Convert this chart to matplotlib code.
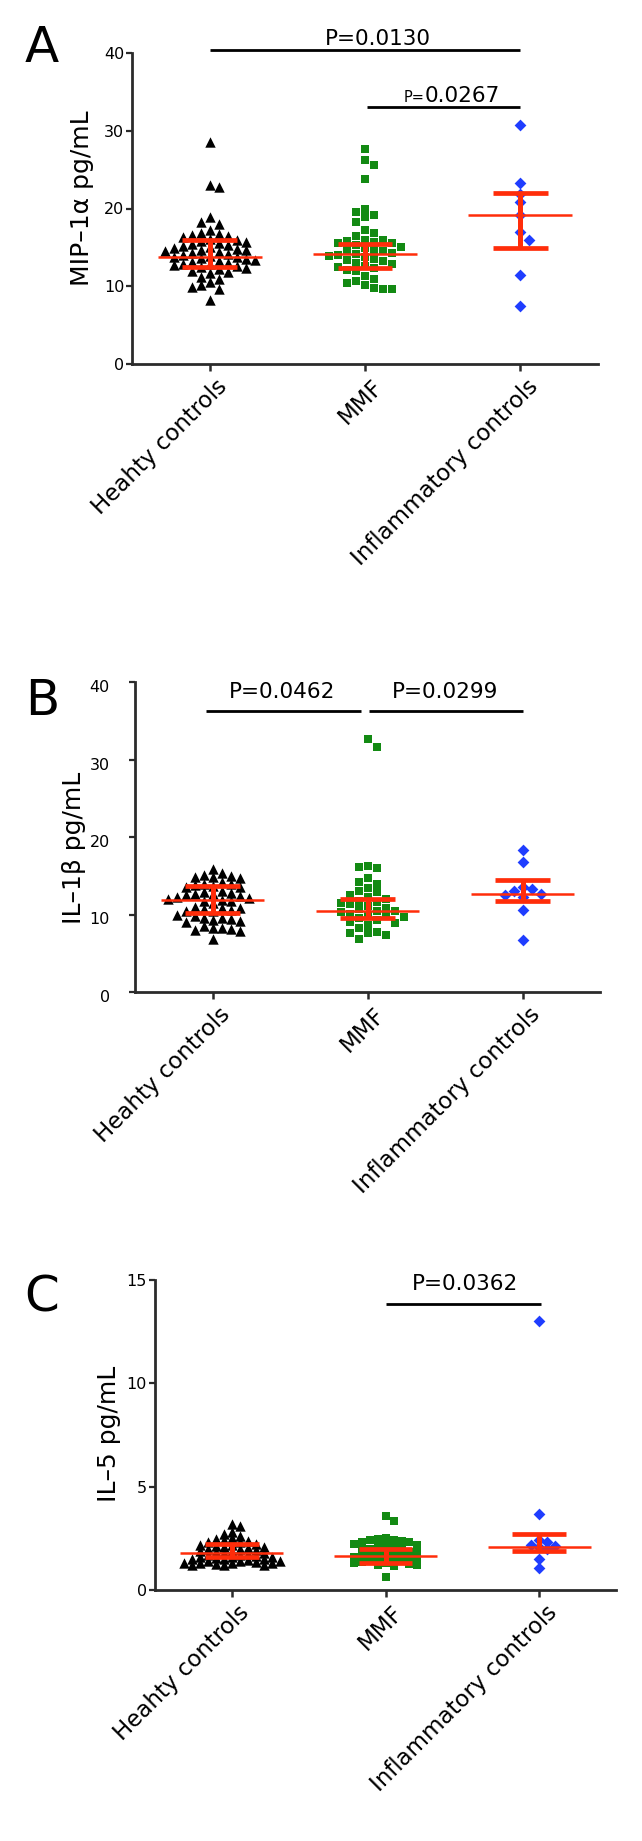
import numpy as np
import matplotlib
matplotlib.use("Agg")
import matplotlib.pyplot as plt
from matplotlib.transforms import ScaledTranslation

# ---------------- data ----------------
groups = ["Heahty controls", "MMF", "Inflammatory controls"]

# Panel A : MIP-1alpha
healthy_A = [28.6, 23.0, 22.8, 18.9, 18.3, 18.0, 17.2, 16.9, 16.7, 16.6, 16.4, 16.3,
             16.1, 15.9, 15.8, 15.7, 15.5, 15.4, 15.3, 15.2, 15.0, 14.9, 14.8, 14.7,
             14.6, 14.5, 14.4, 14.3, 14.1, 14.0, 13.9, 13.8, 13.7, 13.6, 13.5, 13.4,
             13.3, 13.1, 13.0, 12.9, 12.8, 12.7, 12.6, 12.5, 12.4, 12.2, 12.0, 11.8,
             11.7, 11.2, 10.9, 10.5, 10.1, 9.9, 9.6, 8.2]
mmf_A = [27.7, 26.3, 25.6, 23.8, 20.0, 19.6, 19.2, 18.9, 18.2, 17.2, 16.8, 16.4,
         16.0, 15.9, 15.8, 15.7, 15.6, 15.5, 15.3, 15.1, 14.9, 14.7, 14.6, 14.5,
         14.3, 14.1, 14.0, 13.9, 13.7, 13.5, 13.4, 13.2, 13.0, 12.8, 12.6, 12.5,
         12.3, 12.1, 11.9, 11.3, 10.9, 10.7, 10.4, 10.1, 9.8, 9.7, 9.7]
inflam_A = [30.7, 23.3, 21.9, 20.8, 19.2, 17.0, 16.0, 11.5, 7.4]
center_A = [13.8, 14.1, 19.2]
low_A = [12.45, 12.4, 14.9]
high_A = [15.9, 15.4, 22.0]

# Panel B : IL-1beta
healthy_B = [15.9, 15.3, 15.1, 15.0, 14.9, 14.8, 14.7, 14.2, 14.0, 13.9, 13.8, 13.7,
             13.6, 13.5, 13.0, 12.9, 12.8, 12.7, 12.6, 12.5, 12.4, 12.2, 12.1, 12.0,
             11.9, 11.8, 11.7, 11.5, 11.0, 10.9, 10.8, 10.7, 10.6, 10.5, 10.4, 10.0,
             9.8, 9.6, 9.5, 9.4, 9.3, 9.2, 9.0, 8.5, 8.3, 8.2, 8.1, 8.0, 7.9, 6.9]
mmf_B = [32.6, 31.6, 16.2, 16.1, 16.0, 14.7, 14.2, 14.0, 13.4, 13.0, 12.9, 12.5,
         12.2, 12.0, 11.8, 11.6, 11.5, 11.3, 11.1, 10.9, 10.7, 10.5, 10.4, 10.3,
         10.1, 9.9, 9.8, 9.7, 9.5, 9.3, 9.0, 8.9, 8.7, 8.2, 7.8, 7.6, 7.6, 7.4, 6.9]
inflam_B = [18.3, 16.8, 13.5, 13.3, 13.0, 12.7, 12.5, 12.2, 10.6, 6.7]
center_B = [11.9, 10.45, 12.7]
low_B = [10.2, 9.5, 11.7]
high_B = [13.7, 12.05, 14.4]

# Panel C : IL-5
healthy_C = [3.2, 3.1, 2.8, 2.7, 2.6, 2.5, 2.45, 2.4, 2.35, 2.3, 2.3, 2.25, 2.2, 2.2,
             2.15, 2.1, 2.1, 2.05, 2.0, 2.0, 1.95, 1.9, 1.9, 1.85, 1.8, 1.8, 1.75, 1.7,
             1.7, 1.65, 1.6, 1.6, 1.6, 1.55, 1.5, 1.5, 1.5, 1.45, 1.4, 1.4, 1.4, 1.35,
             1.3, 1.3, 1.3, 1.3, 1.25, 1.2, 1.2, 1.2]
mmf_C = [3.6, 3.35, 2.5, 2.45, 2.4, 2.4, 2.35, 2.3, 2.3, 2.25, 2.2, 2.2, 2.1, 2.05,
         2.0, 2.0, 1.95, 1.9, 1.85, 1.8, 1.8, 1.75, 1.7, 1.7, 1.65, 1.6, 1.6, 1.55,
         1.5, 1.5, 1.45, 1.4, 1.4, 1.35, 1.3, 1.3, 1.25, 1.2, 1.2, 1.15, 0.65]
inflam_C = [13.0, 3.7, 2.4, 2.3, 2.2, 2.15, 2.1, 2.0, 1.5, 1.05]
center_C = [1.8, 1.65, 2.08]
low_C = [1.6, 1.3, 1.88]
high_C = [2.25, 2.0, 2.72]

# significance annotations: (x_start, x_end, line_y, text, text_x, text_y)
sig_A = [(0.0, 2.0, 40.4, "P=0.0130", 1.08, 41.0)]
sig_A_small = (1.01, 2.0, 33.1, "P=", "0.0267", 1.381, 33.74)
sig_B = [(-0.04, 0.96, 36.3, "P=0.0462", 0.45, 37.9),
         (1.01, 2.0, 36.3, "P=0.0299", 1.50, 37.9)]
sig_C = [(1.0, 2.01, 13.84, "P=0.0362", 1.52, 14.5)]

# ---------------- style ----------------
RED = "#ff2d0a"
COLORS = ["#000000", "#138a13", "#1f3dff"]
MARKERS = ["^", "s", "D"]
MSIZES = [56, 40, 36]
AXC = "#2b2b2b"

W, H = 642, 1841
fig = plt.figure(figsize=(W / 100, H / 100), dpi=100)


def add_axes(l, r, t, b):
    return fig.add_axes([l / W, 1 - b / H, (r - l) / W, (b - t) / H])


def swarm_x(ax, x0, vals, col_px=9.0, row_px=8.0):
    vals = np.asarray(vals, dtype=float)
    tr = ax.transData
    ys = tr.transform(np.column_stack([np.full(len(vals), x0), vals]))[:, 1]
    ppu = tr.transform((1, 0))[0] - tr.transform((0, 0))[0]
    step = col_px / 2.0
    placed = []
    res = np.zeros(len(vals))
    sign = 1
    for i in np.argsort(-vals, kind="stable"):
        y = ys[i]
        cands = [0.0]
        for m in range(1, 60):
            cands += [sign * m * step, -sign * m * step]
        for dx in cands:
            if all(not (abs(dx - px) < col_px * 0.98 and abs(y - py) < row_px)
                   for px, py in placed):
                break
        if dx != 0:
            sign = -sign
        placed.append((dx, y))
        res[i] = dx
    return x0 + res / ppu


def panel(ax, data, center, low, high, ylim, yticks, ylabel, label_xy,
          tick_pad, ytl_shift=0.0, col_px=9.0, row_px=8.0):
    ax.set_xlim(-0.5, 2.5)
    ax.set_ylim(*ylim)
    for s in ["top", "right"]:
        ax.spines[s].set_visible(False)
    for s in ["left", "bottom"]:
        ax.spines[s].set_linewidth(2.0)
        ax.spines[s].set_color(AXC)
    ax.set_yticks(yticks)
    ax.set_yticklabels([str(v) for v in yticks])
    ax.tick_params(axis="y", length=4, width=1.6, color=AXC, pad=tick_pad,
                   labelsize=11.5)
    ax.set_xticks(range(len(groups)))
    ax.set_xticklabels(groups, rotation=45, ha="right", va="top",
                       rotation_mode="anchor", fontsize=16.5)
    ax.tick_params(axis="x", length=5, width=1.8, color=AXC, pad=3)
    off = ScaledTranslation(6 / 100, 0, fig.dpi_scale_trans)
    for lab in ax.get_xticklabels():
        lab.set_transform(lab.get_transform() + off)
    if ytl_shift:
        offy = ScaledTranslation(0, -ytl_shift / 100, fig.dpi_scale_trans)
        for lab in ax.get_yticklabels():
            lab.set_transform(lab.get_transform() + offy)
    ax.set_ylabel(ylabel, fontsize=18)
    ax.yaxis.set_label_coords(*label_xy)

    for i, vals in enumerate(data):
        xs = swarm_x(ax, i, vals, col_px, row_px)
        ax.scatter(xs, vals, marker=MARKERS[i], s=MSIZES[i], color=COLORS[i],
                   linewidths=0, zorder=3, clip_on=False)
    xs = np.arange(len(groups))
    ax.hlines(center, xs - 0.335, xs + 0.335, color=RED, lw=1.8, zorder=5)
    ax.hlines(low, xs - 0.175, xs + 0.175, color=RED, lw=3.4, zorder=5)
    ax.hlines(high, xs - 0.175, xs + 0.175, color=RED, lw=3.4, zorder=5)
    ax.vlines(xs, low, high, color=RED, lw=3.6, zorder=5)


def sig(ax, items, fs=15.5):
    for x0, x1, ly, txt, tx, ty in items:
        ax.plot([x0, x1], [ly, ly], color="black", lw=2.0, clip_on=False,
                solid_capstyle="butt")
        ax.text(tx, ty, txt, ha="center", va="baseline", fontsize=fs)


# Panel A
axA = add_axes(132, 598, 53, 364)
panel(axA, [healthy_A, mmf_A, inflam_A], center_A, low_A, high_A, (0, 40),
      [0, 10, 20, 30, 40], "MIP–1α pg/mL", (-0.0815, 0.534), 1.5)
sig(axA, sig_A)
x0, x1, ly, t1, t2, tx, ty = sig_A_small
axA.plot([x0, x1], [ly, ly], color="black", lw=2.0, clip_on=False,
         solid_capstyle="butt")
axA.text(tx, ty, t1, ha="right", va="baseline", fontsize=10.5)
axA.text(tx, ty, t2, ha="left", va="baseline", fontsize=15.5)

# Panel B
axB = add_axes(135, 600, 682, 992)
panel(axB, [healthy_B, mmf_B, inflam_B], center_B, low_B, high_B, (0, 40),
      [0, 10, 20, 30, 40], "IL–1β pg/mL", (-0.105, 0.466), 14, ytl_shift=4)
sig(axB, sig_B)

# Panel C
axC = add_axes(155, 616, 1280, 1590)
panel(axC, [healthy_C, mmf_C, inflam_C], center_C, low_C, high_C, (0, 15),
      [0, 5, 10, 15], "IL–5 pg/mL", (-0.0738, 0.503), 2.0,
      col_px=8.0, row_px=6.0)
sig(axC, sig_C)

# panel letters
fig.text(25 / W, 1 - 62 / H, "A", fontsize=36, ha="left", va="baseline")
fig.text(25 / W, 1 - 715 / H, "B", fontsize=36, ha="left", va="baseline")
fig.text(24 / W, 1 - 1311 / H, "C", fontsize=36, ha="left", va="baseline")

fig.savefig("out.png", dpi=100)
